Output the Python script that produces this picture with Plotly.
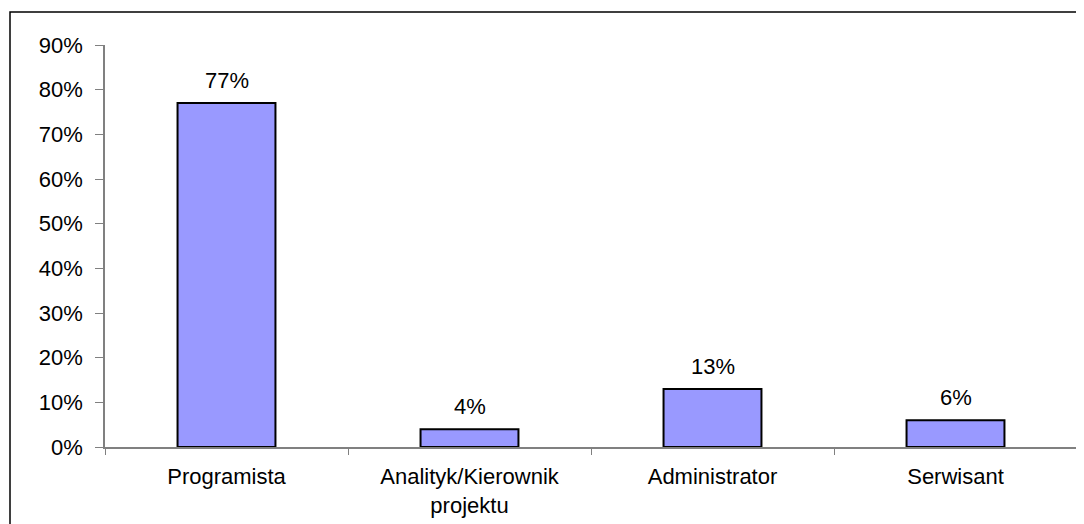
import plotly.graph_objects as go

categories = ["Programista", "Analityk/Kierownik<br>projektu", "Administrator", "Serwisant"]
values = [0.77, 0.04, 0.13, 0.06]
labels = ["77%", "4%", "13%", "6%"]
y_ticks = [0, 0.1, 0.2, 0.3, 0.4, 0.5, 0.6, 0.7, 0.8, 0.9]
y_tick_labels = ["0%", "10%", "20%", "30%", "40%", "50%", "60%", "70%", "80%", "90%"]

FONT = "Liberation Sans, Arial, sans-serif"
FS = 22
W, H = 1084, 524
ml, mr, mt, mb = 97, 15, 37, 85

fig = go.Figure(go.Bar(
    x=categories, y=values,
    marker=dict(color="#9999FF", line=dict(color="black", width=2)),
    cliponaxis=False, width=0.403,
))

for c, v, t in zip(categories, values, labels):
    fig.add_annotation(x=c, y=v, text=t, showarrow=False, yanchor="bottom",
                       yshift=8, font=dict(family=FONT, size=FS, color="black"))

pw = W - ml - mr
ph = H - mt - mb
# outer chart-area border (extends beyond right and bottom edges)
fig.add_shape(type="rect", xref="paper", yref="paper",
              x0=(2 - ml) / pw, x1=(W + 40 - ml) / pw,
              y0=(-40 - mb) / ph, y1=(H - 4 - mb) / ph,
              line=dict(color="black", width=1.5), fillcolor="rgba(0,0,0,0)", layer="below")

fig.update_layout(
    width=W, height=H, margin=dict(l=ml, r=mr, t=mt, b=mb),
    paper_bgcolor="white", plot_bgcolor="white", showlegend=False,
    font=dict(family=FONT, size=FS, color="black"),
    xaxis=dict(type="category", tickson="boundaries", ticks="outside", ticklen=6,
               tickcolor="#808080", showline=True, linecolor="#808080", linewidth=1.5,
               showgrid=False, tickfont=dict(family=FONT, size=FS, color="black"),
               ticklabelstandoff=9, range=[-0.5, 3.5]),
    yaxis=dict(range=[0, 0.9], tickvals=y_ticks, ticktext=y_tick_labels,
               ticks="outside", ticklen=8, tickcolor="#808080", showline=True,
               linecolor="#808080", linewidth=1.5, showgrid=False, zeroline=False,
               ticklabelstandoff=8,
               tickfont=dict(family=FONT, size=FS, color="black")),
)

fig.write_html("out.html")
